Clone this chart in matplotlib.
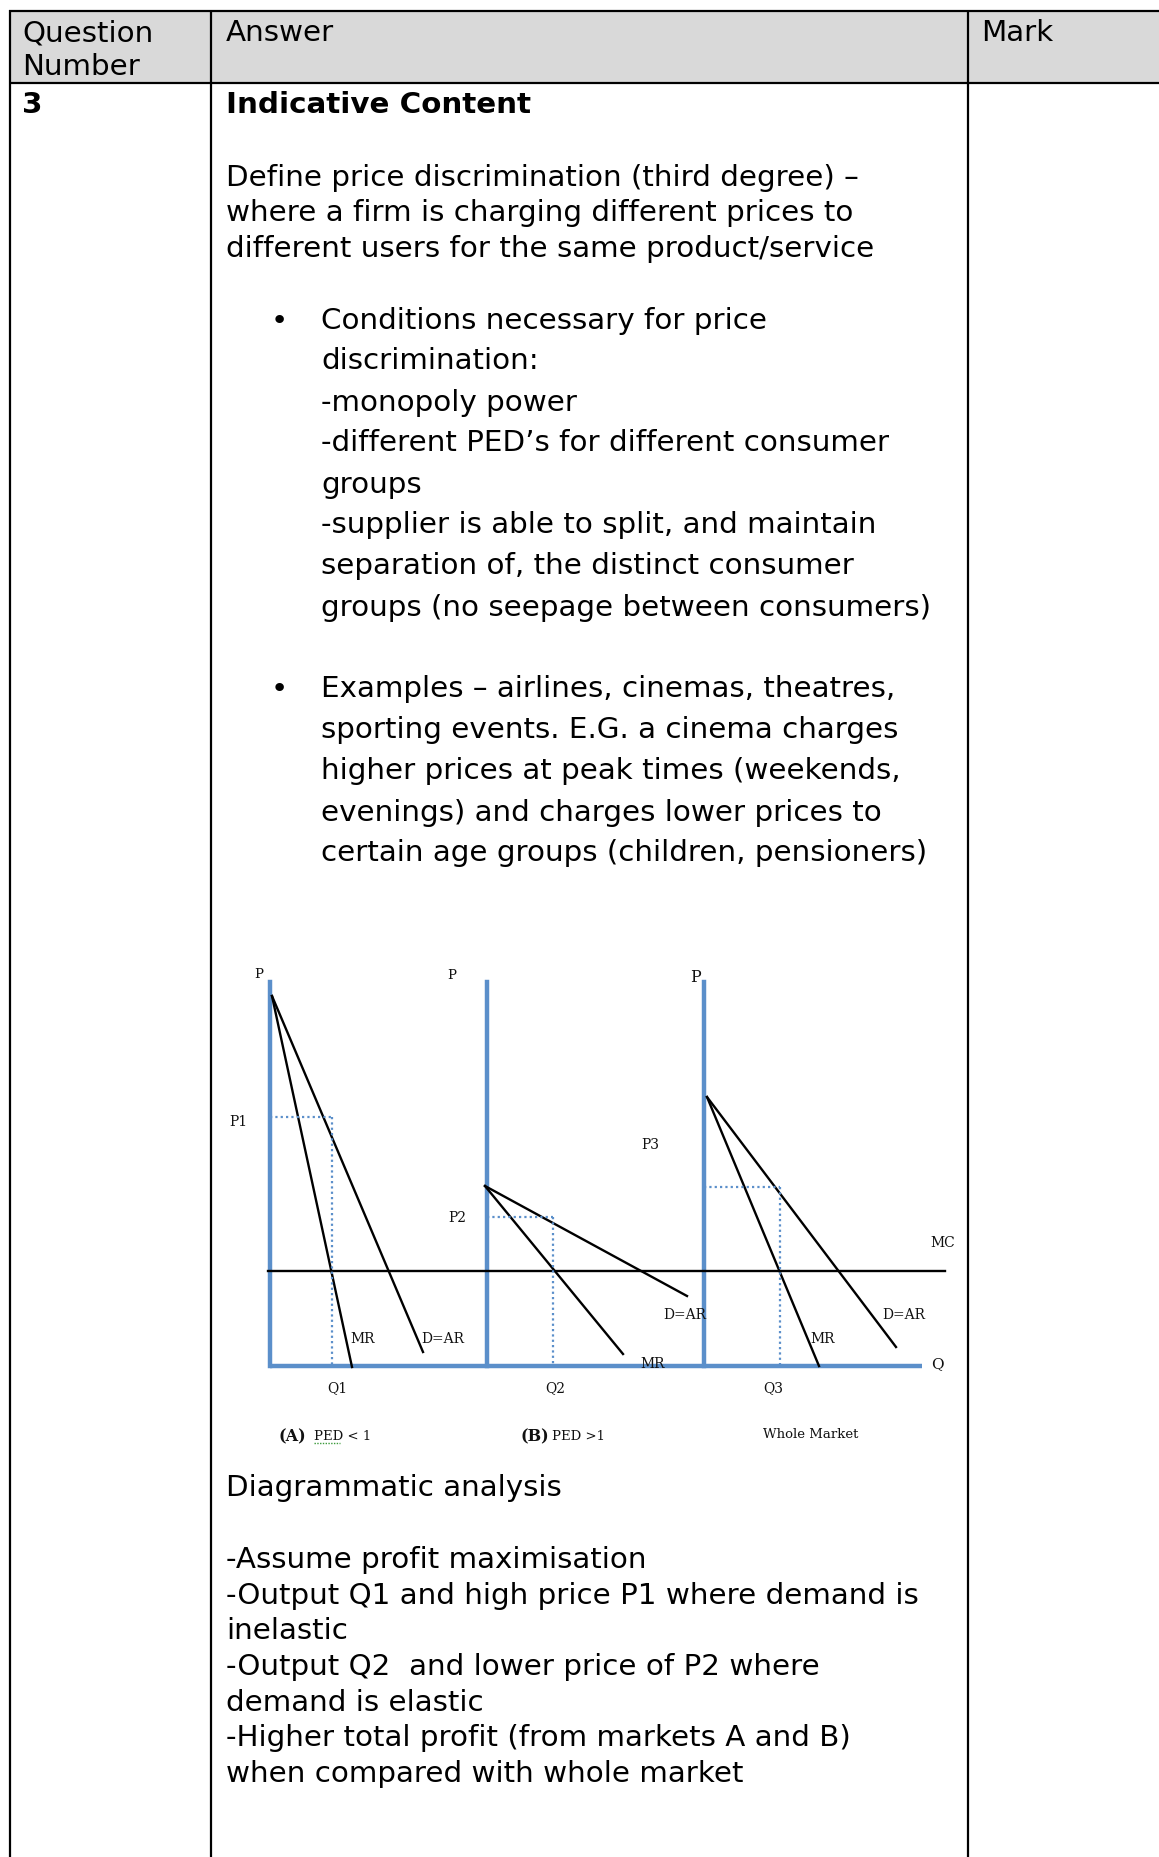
import matplotlib.pyplot as plt

# ---- table texts ----
header = ['Question\nNumber', 'Answer', 'Mark']
question_no = '3'
heading = 'Indicative Content'
intro_lines = ['Define price discrimination (third degree) –',
               'where a firm is charging different prices to',
               'different users for the same product/service']
bullet1 = ['Conditions necessary for price',
           'discrimination:',
           '-monopoly power',
           '-different PED’s for different consumer',
           'groups',
           '-supplier is able to split, and maintain',
           'separation of, the distinct consumer',
           'groups (no seepage between consumers)']
bullet2 = ['Examples – airlines, cinemas, theatres,',
           'sporting events. E.G. a cinema charges',
           'higher prices at peak times (weekends,',
           'evenings) and charges lower prices to',
           'certain age groups (children, pensioners)']
analysis = ['Diagrammatic analysis',
            '',
            '-Assume profit maximisation',
            '-Output Q1 and high price P1 where demand is',
            'inelastic',
            '-Output Q2  and lower price of P2 where',
            'demand is elastic',
            '-Higher total profit (from markets A and B)',
            'when compared with whole market']

# ---- diagram data: q along Q axis, p up the P axis (diagram units) ----
panel_x0 = [0, 217, 434]
axis_top = 384
q_axis_end = 652
mc_level = 95
mc_range = [-2, 675]
demand_apex = [(2, 370), (215, 180), (437, 269)]
demand_end = [(153, 14), (417, 70), (626, 19)]
mr_end = [(82, -1), (353, 12), (549, 0)]
price_level = [249, 149, 179]
quantity = [62, 283, 510]
price_names = ['P1', 'P2', 'P3']
qty_names = ['Q1', 'Q2', 'Q3']

W, H = 1159, 1858
fig = plt.figure(figsize=(W / 100, H / 100), dpi=100)
ax = fig.add_axes([0, 0, 1, 1])
ax.set_xlim(0, W)
ax.set_ylim(H, 0)
ax.axis('off')

# header shading + grid lines
ax.fill_between([9, W], 12, 84, color='#d9d9d9', lw=0)
lk = dict(color='black', lw=1.6, solid_capstyle='butt')
ax.plot([9, W], [12, 12], **lk)
ax.plot([9, W], [84, 84], **lk)
for x in [9.5, 211, 968]:
    ax.plot([x, x], [11, H], **lk)

FS = 21.15
tk = dict(fontsize=FS, family='DejaVu Sans', va='baseline', color='black')
OFF = 9

def line(x, y, s, **kw):
    ax.text(x, y + OFF, s, **tk, **kw)

line(22, 32, 'Question')
line(22, 66, 'Number')
line(226, 32, header[1])
line(981, 32, header[2])
line(22, 104, question_no, weight='bold')
line(226, 104, heading, weight='bold')

for i, s in enumerate(intro_lines):
    line(226, 176.5 + i * 35.6, s)

b1_y = [320, 360, 401.7, 442, 483.5, 523.7, 565, 606.7]
line(271, b1_y[0], '•')
for y, s in zip(b1_y, bullet1):
    line(321, y, s)

b2_y = [688.4, 728.7, 770, 811.7, 852]
line(271, b2_y[0], '•')
for y, s in zip(b2_y, bullet2):
    line(321, y, s)

an_y = [1487, 1523, 1559.5, 1595, 1630.5, 1666, 1701.6, 1737, 1772.6]
for y, s in zip(an_y, analysis):
    line(226, y, s)

# ---- diagram axes, one unit = one pixel ----
ox, oy = 270, 1367
dw, dh = 720, 470
dax = fig.add_axes([ox / W, (H - oy - 90) / H, dw / W, dh / H])
dax.set_xlim(0, dw)
dax.set_ylim(-90, dh - 90)
dax.axis('off')

blue = '#5b8fca'
dax.plot([0, q_axis_end], [0, 0], color=blue, lw=3.2, solid_capstyle='butt', clip_on=False)
for x0 in panel_x0:
    dax.plot([x0, x0], [0, axis_top], color=blue, lw=3.2, clip_on=False)

dax.plot(mc_range, [mc_level, mc_level], color='black', lw=1.7, clip_on=False)

for x0, ap, de, me, pl, q in zip(panel_x0, demand_apex, demand_end, mr_end,
                                 price_level, quantity):
    dax.plot([ap[0], de[0]], [ap[1], de[1]], color='black', lw=1.7, clip_on=False)
    dax.plot([ap[0], me[0]], [ap[1], me[1]], color='black', lw=1.7, clip_on=False)
    dax.plot([x0, q], [pl, pl], color=blue, lw=1.6, ls=(0, (1, 1.4)), clip_on=False)
    dax.plot([q, q], [pl, 0], color=blue, lw=1.6, ls=(0, (1, 1.4)), clip_on=False)

sk = dict(family='DejaVu Serif', fontsize=10, color='#111111', ha='center', va='center')
for x, y, size in [(-11, 392, 9.5), (182, 391, 9.5), (425, 389, 11.5)]:
    dax.text(x, y, 'P', **{**sk, 'fontsize': size})
for (x, y), s in zip([(-32, 245), (187, 149), (380, 222)], price_names):
    dax.text(x, y, s, **sk)
for (x, y), s in zip([(67, -21), (285, -21), (503, -21)], qty_names):
    dax.text(x, y, s, **sk)
dax.text(673, 124, 'MC', **sk)
dax.text(667, 3, 'Q', **{**sk, 'fontsize': 11})
for x, y, s in [(93, 28, 'MR'), (173, 28, 'D=AR'), (415, 52, 'D=AR'),
                (383, 3, 'MR'), (553, 28, 'MR'), (634, 52, 'D=AR')]:
    dax.text(x, y, s, **sk)

ck = dict(family='DejaVu Serif', fontsize=9.5, color='#111111', ha='left', va='center')
dax.text(9, -70, '(A)', weight='bold', **{**ck, 'fontsize': 11.5})
dax.text(44, -70, 'PED < 1', **ck)
dax.plot([44, 70], [-77, -77], color='#3a9a3a', lw=1.0, ls=(0, (1, 1)), clip_on=False)
dax.text(250, -70, '(B)', weight='bold', **{**ck, 'fontsize': 11.5})
dax.text(282, -70, 'PED >1', **ck)
dax.text(493, -68, 'Whole Market', **ck)

fig.savefig('out.png', dpi=100)
